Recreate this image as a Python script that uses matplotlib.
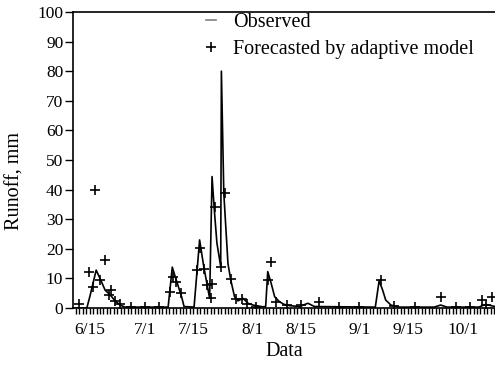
import matplotlib
matplotlib.use("Agg")
import matplotlib.pyplot as plt
import numpy as np

plt.rcParams['font.family'] = ['Liberation Serif', 'DejaVu Serif']
plt.rcParams['font.size'] = 12.5

# days counted from 6/15
obs_day = [-4.8, -0.8, 0.1, 1.9, 3.0, 4.5, 5.9, 7.3, 8.8, 10.2, 22.7, 23.9, 24.9, 26.6, 27.3,
           30.2, 31.8, 33.0, 34.7, 35.4, 36.0, 36.8, 37.9, 38.1, 38.8, 40.0, 40.8, 41.9, 42.9,
           44.3, 45.8, 47.2, 50.1, 50.9, 51.5, 52.5, 53.5, 54.9, 56.3, 57.8, 60.7, 63.1, 65.0,
           82.6, 83.7, 84.7, 85.6, 87.1, 89.5, 99.6, 101.5, 103.3, 112.5, 114.5, 117.2]
obs_val = [0, 0, 4, 12.8, 10, 6, 4.5, 2.5, 1, 0.3, 0.3, 13.8, 10, 3.8, 0.5,
           0.3, 23, 14, 3.3, 44.4, 34, 22, 14, 80, 38.7, 15, 9.5, 3.8, 2.4,
           3.3, 1.6, 1, 0.4, 0.5, 12.3, 8.3, 3.8, 2.1, 1.2, 0.8, 0.5, 1.6, 0.5,
           0.3, 9.2, 6.1, 2.7, 1, 0.3, 0.3, 1, 0.3, 0.3, 1.2, 0.5]

fc_day = [-3.0, -0.1, 1.1, 1.6, 3.0, 4.5, 5.7, 6.1, 7.3, 8.8, 12, 16, 20,
          23.2, 24.0, 25.1, 26.3, 31.1, 31.8, 33.0, 33.8, 35.0, 35.5, 36.2, 37.9, 39.0,
          41.0, 42.4, 44.1, 45.4, 48, 51.7, 52.4, 53.9, 57, 61, 66.4, 72, 78,
          84.2, 88, 94, 101.5, 106, 110, 113.5, 114.5, 116.4]
fc_val = [1.4, 12.1, 7.1, 40, 9.5, 16.2, 4.4, 6.2, 2.5, 1.3, 0.5, 0.5, 0.5,
          5.5, 10.6, 8.9, 5.0, 12.8, 20.2, 13.1, 7.8, 3.3, 8.1, 34, 14, 38.7,
          9.7, 2.9, 2.9, 1.5, 0.5, 9.5, 15.5, 2.1, 1.0, 1.0, 2.1, 0.5, 0.5,
          9.5, 0.8, 0.5, 3.8, 0.5, 0.5, 2.7, 1, 3.8]

tick_days = [0, 16, 30, 47, 61, 78, 92, 108]
tick_labels = ['6/15', '7/1', '7/15', '8/1', '8/15', '9/1', '9/15', '10/1']

fig = plt.figure(figsize=(4.95, 3.65), dpi=100)
ax = fig.add_axes([73/495, 1 - 308/365, 1 - 73/495, 296/365])

ax.plot(obs_day, obs_val, color='black', lw=1.2, label='Observed')
ax.plot(fc_day, fc_val, ls='none', marker='+', ms=7, mew=1.2, color='black',
        label='Forecasted by adaptive model')

ax.set_xlim(-4.8, 117.2)
ax.set_ylim(0, 100)
ax.set_yticks(np.arange(0, 101, 10))
ax.set_xticks(tick_days)
ax.set_xticklabels(tick_labels)
ax.set_xticks(np.arange(-4, 118, 1), minor=True)
ax.tick_params(axis='x', which='both', direction='out', length=4, width=1, pad=6)
ax.tick_params(axis='y', direction='out', length=6, width=1, pad=1)
ax.tick_params(labelsize=12.5)
ax.spines['right'].set_visible(False)
for s in ['left', 'bottom', 'top']:
    ax.spines[s].set_linewidth(1.2)

ax.set_ylabel('Runoff, mm', fontsize=14.5)
ax.yaxis.set_label_coords(-48/422, 0.43)
ax.set_xlabel('Data', fontsize=14.5, labelpad=3)

leg = ax.legend(loc='upper left', bbox_to_anchor=(206/495, 1 - 13/365), bbox_transform=fig.transFigure,
                frameon=False, handlelength=0.5, handletextpad=0.85, borderpad=0, borderaxespad=0,
                labelspacing=0.38, fontsize=14.5)
leg.get_lines()[0].set_color('gray')

fig.savefig('out.png', dpi=100)
